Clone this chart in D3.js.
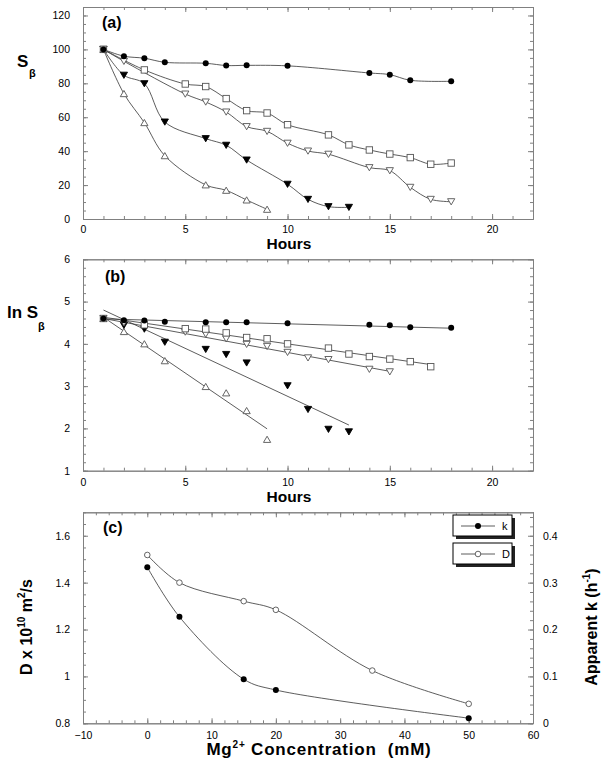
<!DOCTYPE html>
<html><head><meta charset="utf-8">
<script src="https://cdn.jsdelivr.net/npm/d3@7"></script>
<style>
body{margin:0;background:#fff;}
svg{display:block;font-family:"Liberation Sans",Arial,sans-serif;}
text{white-space:pre;}
</style></head>
<body><svg id="c" width="604" height="769"></svg>
<script>
// ---------- DATA ----------
// Panel (a): S_beta vs Hours
const circA_x = [1,2,3,4,6,7,8,10,14,15,16,18];
const circA_y = [100,96,94.8,92.4,91.8,90.5,90.6,90.3,86.1,85.1,81.8,81.2];
const sqA_x = [1,3,5,6,7,8,9,10,12,13,14,15,16,17,18];
const sqA_y = [100,87.9,79.6,78.1,71,63.9,62.5,55.6,49.6,43.7,40.7,38.3,36.2,32.3,33];
const tdA_x = [1,2,5,6,7,8,9,10,11,12,14,15,16,17,18];
const tdA_y = [100,93,73.7,69,63.1,54.5,51.7,44.7,40.1,38.2,30.3,28.5,18.7,11.6,10.2];
const ftdA_x = [1,2,3,4,6,7,8,10,11,12,13];
const ftdA_y = [100,84.8,79.8,57.2,47.4,43.5,34.8,20.5,11.6,7.3,6.9];
const tuA_x = [1,2,3,4,6,7,8,9];
const tuA_y = [100,73.9,56.8,37.3,20.1,16.9,11.2,5.7];

// Panel (b): ln S_beta vs Hours
const circB_x = [1,2,3,4,6,7,8,10,14,15,16,18];
const circB_y = [4.6,4.56,4.55,4.52,4.51,4.51,4.51,4.49,4.45,4.44,4.39,4.38];
const sqB_x = [1,3,5,6,7,8,9,10,12,13,14,15,16,17];
const sqB_y = [4.6,4.45,4.36,4.35,4.26,4.15,4.12,4.0,3.90,3.76,3.70,3.64,3.58,3.46];
const tdB_x = [1,2,5,6,7,8,9,10,11,12,14,15];
const tdB_y = [4.6,4.50,4.28,4.23,4.12,3.99,3.94,3.80,3.67,3.63,3.40,3.34];
const ftdB_x = [2,3,4,6,7,8,10,11,12,13];
const ftdB_y = [4.44,4.35,4.04,3.87,3.75,3.55,3.01,2.45,1.98,1.92];
const tuB_x = [1,2,3,4,6,7,8,9];
const tuB_y = [4.6,4.29,4.0,3.60,2.99,2.84,2.42,1.74];
// linear fits (endpoints)
const fitCirc = [[1,4.59],[18,4.37]];
const fitSq   = [[1,4.63],[17,3.51]];
const fitTd   = [[1,4.60],[15,3.35]];
const fitFtd  = [[1,4.80],[13,2.08]];
const fitTu   = [[1,4.63],[9,1.99]];

// Panel (c)
const concK = [0,5,15,20,50];
const kVals = [0.333,0.227,0.094,0.071,0.011];
const concD = [0,5,15,20,35,50];
const dVals = [1.518,1.40,1.321,1.284,1.025,0.883];

// ticks
const hoursTicks = [0,5,10,15,20];
const sTicks = [0,20,40,60,80,100,120];
const lnTicks = [1,2,3,4,5,6];
const concTicks = [-10,0,10,20,30,40,50,60];
const dTicks = [0.8,1.0,1.2,1.4,1.6];
const kTicks = [0,0.1,0.2,0.3,0.4];

// ---------- DRAW ----------
const svg = d3.select("#c");
const FRAME = "#808080";
const LINE = "#333";
const MSTROKE = "#555";

function range(a,b,s){const r=[];for(let v=a;v<=b+1e-9;v+=s)r.push(+v.toFixed(6));return r;}

function axes(g, x, y, o){
  const [x0,x1]=x.range(), [y0,y1]=y.range();
  const style = sel=>{sel.selectAll("path,line").attr("stroke",FRAME);sel.selectAll("text").attr("fill","#000").attr("font-size",10.5).attr("font-family",'"Liberation Sans",Arial,sans-serif');};
  g.append("g").attr("transform",`translate(0,${y0})`).call(d3.axisBottom(x).tickValues(o.xMinor).tickSize(-3).tickSizeOuter(0).tickFormat("")).call(style);
  g.append("g").attr("transform",`translate(0,${y0})`).call(d3.axisBottom(x).tickValues(o.xTicks).tickSize(-5).tickSizeOuter(0).tickPadding(o.xPad).tickFormat(o.xFmt||d3.format("d"))).call(style);
  g.append("g").attr("transform",`translate(0,${y1})`).call(d3.axisTop(x).tickValues(o.xMinor).tickSize(-3).tickSizeOuter(0).tickFormat("")).call(style);
  g.append("g").attr("transform",`translate(0,${y1})`).call(d3.axisTop(x).tickValues(o.xTicks).tickSize(-5).tickSizeOuter(0).tickFormat("")).call(style);
  g.append("g").attr("transform",`translate(${x0},0)`).call(d3.axisLeft(y).tickValues(o.yMinor).tickSize(-3).tickSizeOuter(0).tickFormat("")).call(style);
  g.append("g").attr("transform",`translate(${x0},0)`).call(d3.axisLeft(y).tickValues(o.yTicks).tickSize(-5).tickSizeOuter(0).tickPadding(o.yPad).tickFormat(o.yFmt||d3.format("d"))).call(style);
  const yr = o.yR || y;
  g.append("g").attr("transform",`translate(${x1},0)`).call(d3.axisRight(yr).tickValues(o.yRMinor||o.yMinor).tickSize(-3).tickSizeOuter(0).tickFormat("")).call(style);
  const ra = d3.axisRight(yr).tickValues(o.yRTicks||o.yTicks).tickSize(-5).tickSizeOuter(0);
  if(o.yR) ra.tickPadding(10).tickFormat(o.yRFmt); else ra.tickFormat("");
  g.append("g").attr("transform",`translate(${x1},0)`).call(ra).call(style);
}

function marker(g,type,cx,cy){
  if(type==="fc") g.append("circle").attr("cx",cx).attr("cy",cy).attr("r",3).attr("fill","#000");
  else if(type==="oc") g.append("circle").attr("cx",cx).attr("cy",cy).attr("r",2.8).attr("fill","#fff").attr("stroke",MSTROKE).attr("stroke-width",0.9);
  else if(type==="sq") g.append("rect").attr("x",cx-3.2).attr("y",cy-3.2).attr("width",6.4).attr("height",6.4).attr("fill","#fff").attr("stroke",MSTROKE).attr("stroke-width",0.9);
  else if(type==="td"||type==="ftd"){
    g.append("path").attr("d",`M${cx-3.6},${cy-3}L${cx+3.6},${cy-3}L${cx},${cy+3.2}Z`)
     .attr("fill",type==="ftd"?"#000":"#fff").attr("stroke",type==="ftd"?"#000":MSTROKE).attr("stroke-width",0.9);
  } else if(type==="tu"){
    g.append("path").attr("d",`M${cx-3.6},${cy+3}L${cx+3.6},${cy+3}L${cx},${cy-3.2}Z`)
     .attr("fill","#fff").attr("stroke",MSTROKE).attr("stroke-width",0.9);
  }
}

function series(g,x,y,xs,ys,type,curve){
  const pts = xs.map((v,i)=>[v,ys[i]]);
  if(curve){
    g.append("path").attr("d",d3.line().x(d=>x(d[0])).y(d=>y(d[1])).curve(curve)(pts))
      .attr("fill","none").attr("stroke",LINE).attr("stroke-width",0.8);
  }
  return ()=>pts.forEach(p=>marker(g,type,x(p[0]),y(p[1])));
}

const smooth = d3.curveCatmullRom.alpha(0.5);

// ----- Panel (a)
const xa = d3.scaleLinear([0,22],[83,533]);
const ya = d3.scaleLinear([0,125],[219,7]);
const ga = svg.append("g");
axes(ga,xa,ya,{xTicks:hoursTicks,xMinor:range(0,22,1),xPad:7,yTicks:sTicks,yMinor:range(0,125,5),yPad:13});
[
  series(ga,xa,ya,tuA_x,tuA_y,"tu",smooth),
  series(ga,xa,ya,ftdA_x,ftdA_y,"ftd",smooth),
  series(ga,xa,ya,tdA_x,tdA_y,"td",smooth),
  series(ga,xa,ya,sqA_x,sqA_y,"sq",smooth),
  series(ga,xa,ya,circA_x,circA_y,"fc",smooth)].forEach(f=>f());
ga.append("text").attr("x",102).attr("y",28).attr("font-size",16).attr("font-weight","bold").text("(a)");
ga.append("text").attr("x",289).attr("y",249).attr("text-anchor","middle").attr("font-size",15.5).attr("font-weight","bold").text("Hours");
ga.append("text").attr("x",17).attr("y",67).attr("font-size",17).attr("font-weight","bold").text("S");
ga.append("text").attr("x",29).attr("y",77).attr("font-size",11).attr("font-weight","bold").text("β");

// ----- Panel (b)
const xb = d3.scaleLinear([0,22],[83,533]);
const yb = d3.scaleLinear([1,6],[470.7,259.3]);
const gb = svg.append("g");
axes(gb,xb,yb,{xTicks:hoursTicks,xMinor:range(0,22,1),xPad:8,yTicks:lnTicks,yMinor:range(1,6,0.2),yPad:13});
const fitLine = d3.line().x(d=>xb(d[0])).y(d=>yb(d[1]));
[fitCirc,fitSq,fitTd,fitFtd,fitTu].forEach(f=>gb.append("path").attr("d",fitLine(f)).attr("fill","none").attr("stroke",LINE).attr("stroke-width",0.8));
[
  series(gb,xb,yb,tuB_x,tuB_y,"tu",null),
  series(gb,xb,yb,ftdB_x,ftdB_y,"ftd",null),
  series(gb,xb,yb,tdB_x,tdB_y,"td",null),
  series(gb,xb,yb,sqB_x,sqB_y,"sq",null),
  series(gb,xb,yb,circB_x,circB_y,"fc",null)].forEach(f=>f());
gb.append("text").attr("x",105).attr("y",282).attr("font-size",16).attr("font-weight","bold").text("(b)");
gb.append("text").attr("x",289).attr("y",502).attr("text-anchor","middle").attr("font-size",15.5).attr("font-weight","bold").text("Hours");
gb.append("text").attr("x",7).attr("y",318).attr("font-size",17).attr("font-weight","bold").text("ln S");
gb.append("text").attr("x",38).attr("y",330).attr("font-size",11).attr("font-weight","bold").text("β");

// ----- Panel (c)
const xc = d3.scaleLinear([-10,60],[83,533]);
const ycL = d3.scaleLinear([0.8,1.7],[723.3,512.3]);
const ycR = d3.scaleLinear([0,0.45],[723.3,512.3]);
const gc = svg.append("g");
axes(gc,xc,ycL,{xTicks:concTicks,xMinor:range(-10,60,2),xPad:8,yTicks:dTicks,yMinor:range(0.8,1.7,0.05),yPad:13,
  yFmt:d=>d3.format("")(+d.toFixed(1)),
  yR:ycR,yRTicks:kTicks,yRMinor:range(0,0.45,0.02),yRFmt:d=>d3.format("")(+d.toFixed(1))});
[
  series(gc,xc,ycL,concD,dVals,"oc",smooth),
  series(gc,xc,ycR,concK,kVals,"fc",smooth)].forEach(f=>f());
gc.append("text").attr("x",103).attr("y",533).attr("font-size",16).attr("font-weight","bold").text("(c)");

const xt = gc.append("text").attr("x",319).attr("y",755).attr("text-anchor","middle").attr("font-size",17).attr("font-weight","bold").attr("letter-spacing",0.8);
xt.append("tspan").text("Mg");
xt.append("tspan").attr("dy",-7).attr("font-size",10).text("2+");
xt.append("tspan").attr("dy",7).text(" Concentration  (mM)");
const lt = gc.append("text").attr("transform","translate(32,627) rotate(-90)").attr("text-anchor","middle").attr("font-size",16).attr("font-weight","bold");
lt.append("tspan").text("D x 10");
lt.append("tspan").attr("dy",-7).attr("font-size",10).text("10");
lt.append("tspan").attr("dy",7).text(" m");
lt.append("tspan").attr("dy",-7).attr("font-size",10).text("2");
lt.append("tspan").attr("dy",7).text("/s");
const rt = gc.append("text").attr("transform","translate(597,627) rotate(-90)").attr("text-anchor","middle").attr("font-size",16).attr("font-weight","bold");
rt.append("tspan").text("Apparent k (h");
rt.append("tspan").attr("dy",-7).attr("font-size",10).text("-1");
rt.append("tspan").attr("dy",7).text(")");

const legendItems = [{label:"k",type:"fc",y:515},{label:"D",type:"oc",y:543}];
legendItems.forEach(it=>{
  const lg = gc.append("g");
  lg.append("rect").attr("x",456).attr("y",it.y+3).attr("width",59).attr("height",21).attr("fill","#222");
  lg.append("rect").attr("x",453).attr("y",it.y).attr("width",59).attr("height",21).attr("fill","#fff").attr("stroke","#000").attr("stroke-width",1);
  lg.append("line").attr("x1",461).attr("x2",495).attr("y1",it.y+11).attr("y2",it.y+11).attr("stroke",LINE).attr("stroke-width",0.8);
  marker(lg,it.type,478,it.y+11);
  lg.append("text").attr("x",502).attr("y",it.y+15).attr("font-size",11).text(it.label);
});
</script></body></html>
